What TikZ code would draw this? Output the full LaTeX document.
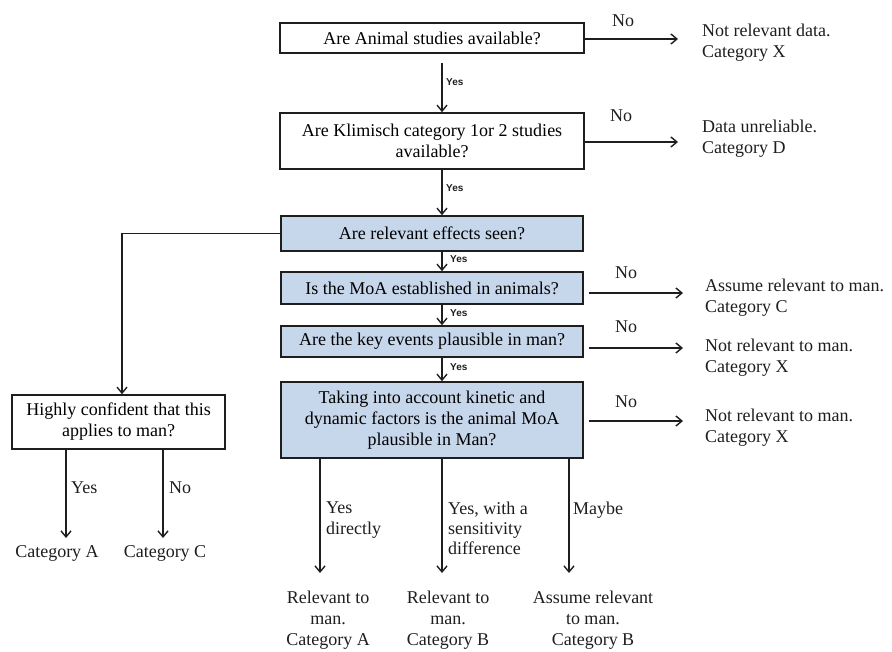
\documentclass[tikz,border=0pt]{standalone}
\usepackage{fontspec}
\setmainfont{Liberation Serif}
\newfontfamily\smallsans{Liberation Sans}
\usetikzlibrary{arrows.meta}
\definecolor{boxblue}{RGB}{198,214,235}
\definecolor{ink}{RGB}{30,30,30}
\begin{document}
\begin{tikzpicture}[x=1pt,y=-1pt,
  font=\fontsize{18}{21}\selectfont,
  qbox/.style n args={2}{draw=ink, line width=1.6pt, align=center, minimum width=#1, minimum height=#2, inner sep=0pt},
  blue/.style={fill=boxblue},
  outtext/.style={align=left, inner sep=0pt, text=ink},
  endtext/.style={align=center, inner sep=0pt, anchor=north, text=ink},
  arr/.style={draw=ink, line width=1.5pt, -{Straight Barb[length=6pt,width=10pt,line width=1.4pt]}},
  ys/.style={font=\smallsans\bfseries\fontsize{10}{11}\selectfont, inner sep=0pt, anchor=west, text=ink},
  lab/.style={inner sep=0pt, text=ink}]
\useasboundingbox (0,0) rectangle (892,652);

% question boxes
\node[qbox={304}{30}] (b1) at (432,38) {Are Animal studies available?};
\node[qbox={304}{56}] (b2) at (432,141) {Are Klimisch category 1or 2 studies\\available?};
\node[qbox={302}{35}, blue] (b3) at (432,233.5) {Are relevant effects seen?};
\node[qbox={302}{32}, blue] (b4) at (432,288) {Is the MoA established in animals?};
\node[qbox={302}{31}, blue] (b5) at (432,341.5) {Are the key events plausible in man?};
\node[qbox={302}{76}, blue] (b6) at (432,420) {Taking into account kinetic and\\dynamic factors is the animal MoA\\plausible in Man?};
\node[qbox={213}{54}] (b7) at (118.5,422) {Highly confident that this\\applies to man?};

% right outcomes
\node[outtext, anchor=west] (o1) at (702,42.5) {Not relevant data.\\Category X};
\node[outtext, anchor=west] (o2) at (702,139) {Data unreliable.\\Category D};
\node[outtext, anchor=west] (o3) at (705,297.5) {Assume relevant to man.\\Category C};
\node[outtext, anchor=west] (o4) at (705,357.5) {Not relevant to man.\\Category X};
\node[outtext, anchor=west] (o5) at (705,427.5) {Not relevant to man.\\Category X};

\coordinate (t1) at (678,39);
\coordinate (t2) at (678,142);
\coordinate (t3) at (683,293);
\coordinate (t4) at (683,348);
\coordinate (t5) at (683,421);

\draw[arr] (b1.east |- t1) -- (t1);
\node[lab] (n1) at (623,21) {No};
\draw[arr] (b2.east |- t2) -- (t2);
\node[lab] (n2) at (621,116) {No};
\draw[arr, shorten <=5pt] (b4.east |- t3) -- (t3);
\node[lab] (n3) at (626,273) {No};
\draw[arr, shorten <=5pt] (b5.east |- t4) -- (t4);
\node[lab] (n4) at (626,327) {No};
\draw[arr, shorten <=5pt] (b6.east |- t5) -- (t5);
\node[lab] (n5) at (626,402) {No};

% vertical yes arrows
\draw[arr, shorten <=9pt] ([xshift=10pt]b1.south) -- ([xshift=10pt]b2.north);
\node[ys] (y1) at (446,82) {Yes};
\draw[arr] ([xshift=10pt]b2.south) -- ([xshift=10pt]b3.north);
\node[ys] (y2) at (446,188) {Yes};
\draw[arr] ([xshift=10pt]b3.south) -- ([xshift=10pt]b4.north);
\node[ys] (y3) at (450,259) {Yes};
\draw[arr] ([xshift=10pt]b4.south) -- ([xshift=10pt]b5.north);
\node[ys] (y4) at (450,313) {Yes};
\draw[arr] ([xshift=10pt]b5.south) -- ([xshift=10pt]b6.north);
\node[ys] (y5) at (450,367) {Yes};

% left branch
\draw[arr] (b3.west) -| ([xshift=3.5pt]b7.north);
\coordinate (tLA) at (66,538);
\coordinate (tLC) at (163,538);
\draw[arr] (b7.south -| tLA) -- (tLA);
\draw[arr] (b7.south -| tLC) -- (tLC);
\node[lab, anchor=west] (ly) at (71,488) {Yes};
\node[lab, anchor=west] (ln) at (169,488) {No};
\node[lab] (cA) at (57,553) {Category A};
\node[lab] (cC) at (165,553) {Category C};

% bottom branches
\coordinate (tA) at (320,573);
\coordinate (tB) at (442,573);
\coordinate (tC) at (569,573);
\draw[arr] (b6.south -| tA) -- (tA);
\draw[arr] (b6.south -| tB) -- (tB);
\draw[arr] (b6.south -| tC) -- (tC);
\node[outtext, anchor=north west] (la) at (326,502) {Yes\\directly};
\node[outtext, anchor=north west, font=\fontsize{18}{20}\selectfont] (lb) at (448,502) {Yes, with a\\sensitivity\\difference};
\node[outtext, anchor=north west] (lc) at (573,502) {Maybe};

\node[endtext] (eA) at (328,591) {Relevant to\\man.\\Category A};
\node[endtext] (eB) at (448,591) {Relevant to\\man.\\Category B};
\node[endtext] (eC) at (593,591) {Assume relevant\\to man.\\Category B};
\end{tikzpicture}
\end{document}
